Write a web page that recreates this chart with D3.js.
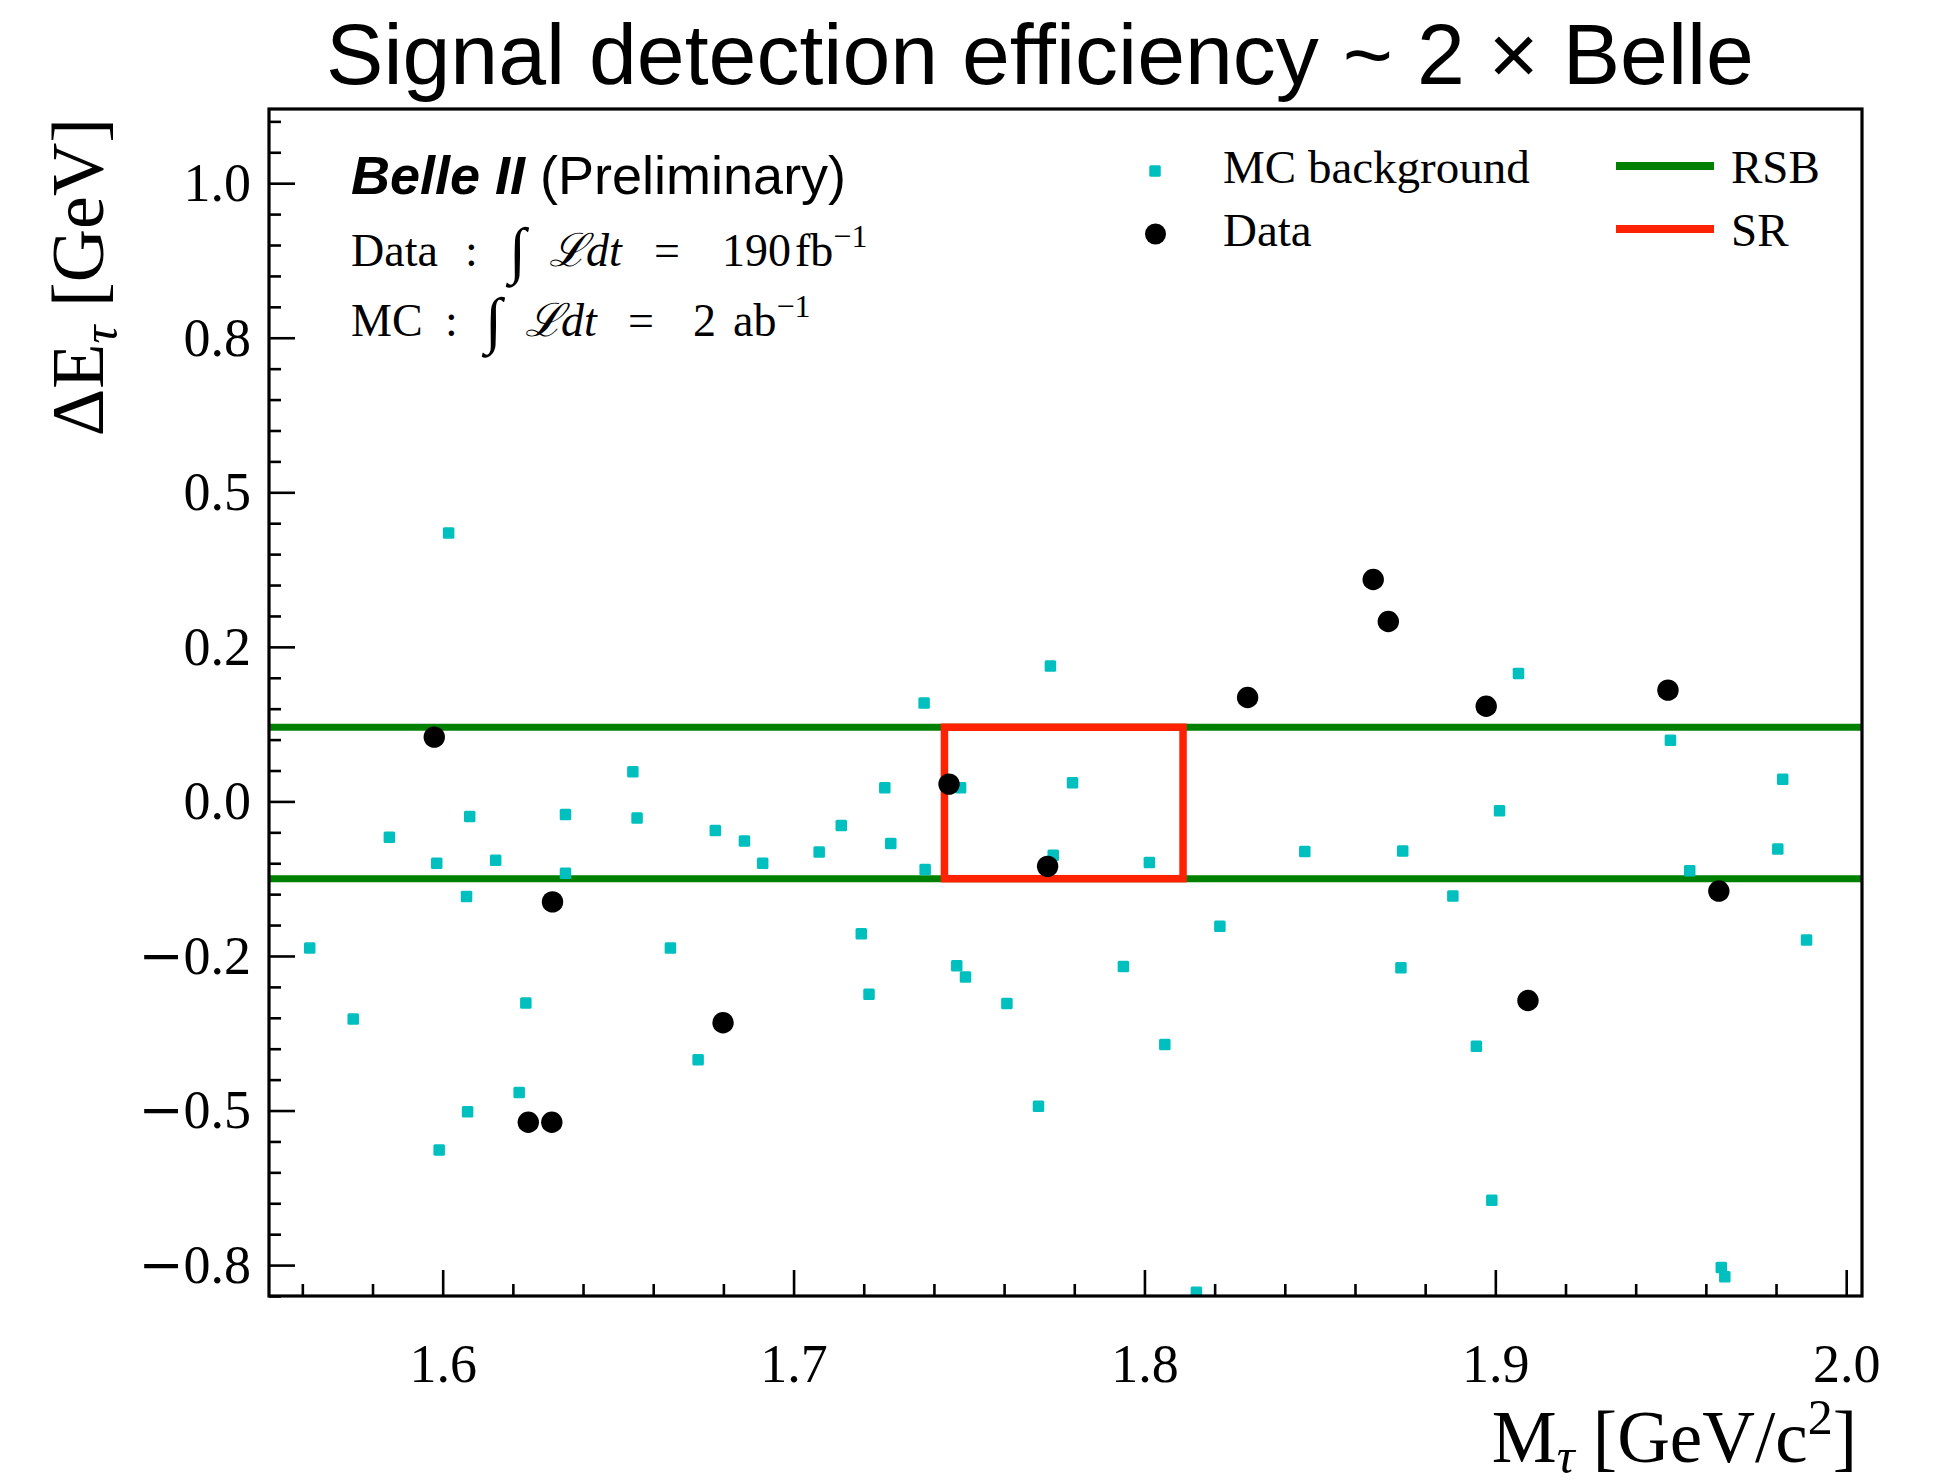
<!DOCTYPE html>
<html><head><meta charset="utf-8">
<script src="https://cdn.jsdelivr.net/npm/d3@7"></script>
<style>html,body{margin:0;padding:0;background:#fff;} svg{display:block}</style>
</head><body><svg id="c" width="1946" height="1484"></svg>
<script>
// ---- data ----
const mcMass = [1.5621,1.5745,1.5848,1.5983,1.6017,1.5990,1.6077,1.6068,1.6151,1.6237,1.6218,1.6071,1.6350,1.6350,1.6542,1.6554,1.6649,1.6728,1.6777,1.6860,1.6912,1.7073,1.7136,1.7193,1.7215,1.7260,1.7277,1.7372,1.7375,1.7465,1.7476,1.7490,1.7608,1.7698,1.7732,1.7740,1.7795,1.7940,1.8014,1.8058,1.8148,1.8215,1.8457,1.8731,1.8736,1.8879,1.8946,1.8990,1.9012,1.9066,1.9499,1.9554,1.9644,1.9654,1.9805,1.9819,1.9887];
const mcDeltaE = [-0.237,-0.352,-0.058,-0.100,0.434,-0.564,-0.0245,-0.154,-0.095,-0.326,-0.471,-0.502,-0.021,-0.116,0.048,-0.027,-0.237,-0.418,-0.047,-0.064,-0.100,-0.082,-0.039,-0.214,-0.312,0.022,-0.068,0.159,-0.110,-0.266,0.022,-0.284,-0.327,-0.493,0.219,-0.087,0.030,-0.267,-0.099,-0.393,-0.794,-0.202,-0.081,-0.269,-0.080,-0.153,-0.396,-0.645,-0.015,0.207,0.099,-0.112,-0.754,-0.769,-0.077,0.036,-0.224];
const dataMass = [1.5976,1.6313,1.6244,1.6311,1.6799,1.7443,1.7724,1.8294,1.8652,1.8695,1.8974,1.9093,1.9492,1.9637];
const dataDeltaE = [0.104,-0.1625,-0.519,-0.519,-0.358,0.028,-0.105,0.168,0.359,0.291,0.154,-0.322,0.180,-0.145];
const xTickValues = [1.6,1.7,1.8,1.9,2.0];
const xTickLabels = ["1.6","1.7","1.8","1.9","2.0"];
const yTickValues = [-0.75,-0.5,-0.25,0,0.25,0.5,0.75,1.0];
const yTickLabels = ["\u22120.8","\u22120.5","\u22120.2","0.0","0.2","0.5","0.8","1.0"];
const rsbEdges = [-0.125, 0.12];
const srMass = [1.743, 1.811];
const srDeltaE = [-0.125, 0.12];
const legendLabels = ["MC background","Data","RSB","SR"];
const titleText = "Signal detection efficiency ~ 2 \u00d7 Belle";

// ---- layout ----
const L = 269, R = 1862, T = 109, B = 1296;
const serif = "'Liberation Serif','DejaVu Serif',serif";
const sans = "'Liberation Sans',Arial,sans-serif";
const cyan = "#00bfbf", green = "#008000", red = "#ff2200";

const svg = d3.select("#c");
const x = d3.scaleLinear().domain([1.5505, 2.0045]).range([L, R]);
const y = d3.scaleLinear().domain([-0.8, 1.12]).range([B, T]);

// title
svg.append("text").attr("x", 1040).attr("y", 84).attr("text-anchor","middle")
  .style("font-family", sans).style("font-size","86px").text(titleText);

svg.append("defs").append("clipPath").attr("id","clip")
  .append("rect").attr("x",L).attr("y",T).attr("width",R-L).attr("height",B-T);

const plot = svg.append("g").attr("clip-path","url(#clip)");

// RSB lines
plot.selectAll("line.rsb").data(rsbEdges).join("line").attr("class","rsb")
  .attr("x1", x(x.domain()[0])).attr("x2", x(x.domain()[1]))
  .attr("y1", d=>y(d)).attr("y2", d=>y(d))
  .attr("stroke", green).attr("stroke-width", 7);

// SR box
plot.append("rect")
  .attr("x", x(srMass[0])).attr("y", y(srDeltaE[1]))
  .attr("width", x(srMass[1]) - x(srMass[0])).attr("height", y(srDeltaE[0]) - y(srDeltaE[1]))
  .attr("fill","none").attr("stroke", red).attr("stroke-width", 7.5);

// MC background
const ms = 11.5;
plot.selectAll("rect.mc").data(mcMass.map((m,i)=>[m, mcDeltaE[i]])).join("rect").attr("class","mc")
  .attr("x", d=>x(d[0]) - ms/2).attr("y", d=>y(d[1]) - ms/2)
  .attr("width", ms).attr("height", ms).attr("rx", 1.5)
  .attr("fill", cyan);

// data
plot.selectAll("circle.data").data(dataMass.map((m,i)=>[m, dataDeltaE[i]])).join("circle").attr("class","data")
  .attr("cx", d=>x(d[0])).attr("cy", d=>y(d[1])).attr("r", 10.7).attr("fill","#000");

// axes
const fmtMap = new Map(yTickValues.map((v,i)=>[v, yTickLabels[i]]));
const xMap = new Map(xTickValues.map((v,i)=>[v, xTickLabels[i]]));

const yMinor = d3.range(-16, 23).map(i=>+(i*0.05).toFixed(2)).filter(v=>!yTickValues.some(t=>Math.abs(t-v)<1e-9));
const xMinor = d3.range(78, 101).map(i=>+(i*0.02).toFixed(2)).filter(v=>!xTickValues.some(t=>Math.abs(t-v)<1e-9));

const gyMin = svg.append("g").attr("transform",`translate(${L},0)`)
  .call(d3.axisLeft(y).tickValues(yMinor).tickSize(-12).tickFormat(""));
const gy = svg.append("g").attr("transform",`translate(${L},0)`)
  .call(d3.axisLeft(y).tickValues(yTickValues).tickSize(-26).tickPadding(18).tickFormat(d=>fmtMap.get(d)));
const gxMin = svg.append("g").attr("transform",`translate(0,${B})`)
  .call(d3.axisBottom(x).tickValues(xMinor).tickSize(-12).tickFormat(""));
const gx = svg.append("g").attr("transform",`translate(0,${B})`)
  .call(d3.axisBottom(x).tickValues(xTickValues).tickSize(-26).tickPadding(48).tickFormat(d=>xMap.get(d)));

[gyMin, gy, gxMin, gx].forEach(g=>{
  g.select(".domain").remove();
  g.selectAll(".tick line").attr("stroke","#000").attr("stroke-width",2.6);
  g.selectAll(".tick text").style("font-family", serif).style("font-size","54px").attr("fill","#000");
});
// wider, math-style minus sign on negative labels
gy.selectAll(".tick text").each(function(){
  const s = d3.select(this), t = s.text();
  if (t.startsWith("\u2212")) {
    s.text(null);
    s.append("tspan").style("font-family","'DejaVu Serif',serif").text("\u2212");
    s.append("tspan").text(t.slice(1));
  }
});

// frame
svg.append("rect").attr("x",L).attr("y",T).attr("width",R-L).attr("height",B-T)
  .attr("fill","none").attr("stroke","#000").attr("stroke-width",3.2);

// axis labels
const xl = svg.append("text").attr("x", 1857).attr("y", 1462).attr("text-anchor","end")
  .style("font-family", serif).style("font-size","73px");
xl.append("tspan").text("M");
xl.append("tspan").attr("dy", 11).style("font-size","50px").style("font-style","italic").text("\u03c4");
xl.append("tspan").attr("dy", -11).text(" [GeV/c");
xl.append("tspan").attr("dy", -28).style("font-size","50px").text("2");
xl.append("tspan").attr("dy", 28).text("]");

const yl = svg.append("text").attr("transform","translate(103,118) rotate(-90)").attr("text-anchor","end")
  .style("font-family", serif).style("font-size","74px");
yl.append("tspan").text("\u0394E");
yl.append("tspan").attr("dy", 14).style("font-size","50px").style("font-style","italic").text("\u03c4");
yl.append("tspan").attr("dy", -14).text(" [GeV]");

// experiment label
const bl = svg.append("text").attr("x", 351).attr("y", 194).style("font-family", sans).style("font-size","54px");
bl.append("tspan").style("font-weight","bold").style("font-style","italic").text("Belle II");
bl.append("tspan").text(" (Preliminary)");

function mathLine(yb, items){
  items.forEach(it=>{
    const t = svg.append("text").attr("x", it.x).attr("y", yb + (it.dy||0))
      .style("font-family", serif).style("font-size", (it.fs||46)+"px")
      .style("font-style", it.it ? "italic" : "normal").text(it.t);
    if (it.sup) t.append("tspan").attr("dy", -19).style("font-size","32px").style("font-style","normal").text(it.sup);
  });
}
mathLine(266, [
  {x:351,t:"Data"},{x:465,t:":"},{x:509,t:"\u222b",fs:62,dy:5},{x:549,t:"\u2112",it:1},{x:586,t:"dt",it:1},
  {x:654,t:"="},{x:722,t:"190"},{x:795,t:"fb",sup:"\u22121"}
]);
mathLine(336, [
  {x:351,t:"MC"},{x:445,t:":"},{x:485,t:"\u222b",fs:62,dy:5},{x:525,t:"\u2112",it:1},{x:561,t:"dt",it:1},
  {x:628,t:"="},{x:693,t:"2"},{x:733,t:"ab",sup:"\u22121"}
]);

// legend
const lg = svg.append("g");
lg.append("rect").attr("x",1155-ms/2).attr("y",171-ms/2).attr("width",ms).attr("height",ms).attr("rx",1.5).attr("fill",cyan);
lg.append("circle").attr("cx",1155.5).attr("cy",234).attr("r",10.5).attr("fill","#000");
lg.append("line").attr("x1",1616).attr("x2",1714).attr("y1",166).attr("y2",166).attr("stroke",green).attr("stroke-width",8);
lg.append("line").attr("x1",1616).attr("x2",1714).attr("y1",229).attr("y2",229).attr("stroke",red).attr("stroke-width",8);
const legPos = [[1223,183],[1223,246],[1731,183],[1731,246]];
legendLabels.forEach((t,i)=>{
  lg.append("text").attr("x",legPos[i][0]).attr("y",legPos[i][1])
    .style("font-family", serif).style("font-size","47px").text(t);
});
</script>
</body></html>
